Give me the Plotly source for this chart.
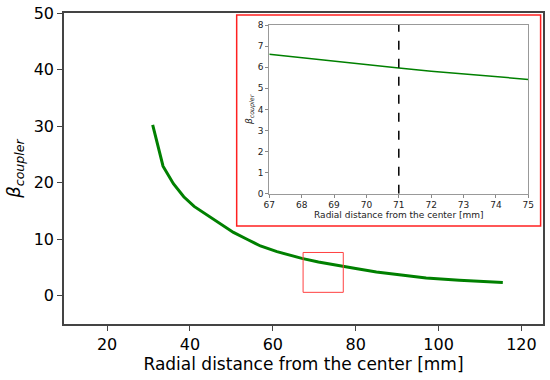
import plotly.graph_objects as go

# Main curve data
x_main = [31, 33.5, 36, 38.5, 41, 44, 47, 50.5, 54, 57, 61, 65, 67, 71, 75, 80, 85, 90, 97, 105, 115.5]
y_main = [30.2, 22.9, 19.8, 17.5, 15.8, 14.3, 12.8, 11.2, 9.9, 8.8, 7.8, 7.0, 6.6, 5.95, 5.4, 4.8, 4.2, 3.75, 3.15, 2.75, 2.35]

# Inset (zoomed) data
x_inset = [67, 68, 69, 70, 71, 72, 73, 74, 75]
y_inset = [6.61, 6.44, 6.28, 6.12, 5.96, 5.81, 5.67, 5.54, 5.42]

marker_x = 71
zoom_box = dict(x0=67.3, x1=77.0, y0=0.6, y1=7.65)

main_xticks = [20, 40, 60, 80, 100, 120]
main_yticks = [0, 10, 20, 30, 40, 50]
inset_xticks = [67, 68, 69, 70, 71, 72, 73, 74, 75]
inset_yticks = [0, 1, 2, 3, 4, 5, 6, 7, 8]

FONT = "DejaVu Sans"
fig = go.Figure()

fig.add_trace(go.Scatter(x=x_main, y=y_main, mode="lines",
                         line=dict(color="#008000", width=3), xaxis="x", yaxis="y",
                         showlegend=False))
fig.add_trace(go.Scatter(x=x_inset, y=y_inset, mode="lines",
                         line=dict(color="#008000", width=1.5), xaxis="x2", yaxis="y2",
                         showlegend=False))
fig.add_trace(go.Scatter(x=[marker_x, marker_x], y=[inset_yticks[0], inset_yticks[-1]], mode="lines",
                         line=dict(color="black", width=1.5, dash="dash"), xaxis="x2", yaxis="y2",
                         showlegend=False))

fig.add_shape(type="rect", xref="x", yref="y", line=dict(color="#ff4040", width=1),
              **zoom_box)
fig.add_shape(type="rect", xref="paper", yref="paper", x0=0.3605, x1=0.995, y0=0.315, y1=0.9936,
              line=dict(color="#ff2020", width=1.5), fillcolor="white", layer="below")

fig.update_layout(
    width=550, height=380,
    margin=dict(l=64, r=7, t=13, b=56),
    paper_bgcolor="white", plot_bgcolor="white",
    font=dict(family=FONT, color="black"),
    xaxis=dict(range=[9.6, 125.2], tickvals=main_xticks, ticks="outside", ticklen=5,
               tickcolor="#444", showline=True, linecolor="#444", linewidth=1.5, mirror=True,
               showgrid=False, zeroline=False, tickfont=dict(size=16), automargin=False,
               title=dict(text="Radial distance from the center [mm]", font=dict(size=17), standoff=4)),
    yaxis=dict(range=[-5, 50], tickvals=main_yticks, ticks="outside", ticklen=5,
               tickcolor="#444", showline=True, linecolor="#444", linewidth=1.5, mirror=True,
               showgrid=False, zeroline=False, tickfont=dict(size=16), automargin=False,
               title=dict(text="<i>β</i><sub><i>coupler</i></sub>", font=dict(size=18), standoff=8)),
    xaxis2=dict(domain=[0.4286, 0.9693], anchor="y2", range=[67, 75], tickvals=inset_xticks,
                ticks="outside", ticklen=3, tickcolor="#888", showline=True, linecolor="#999",
                linewidth=1, mirror=True, showgrid=False, zeroline=False, automargin=False,
                tickfont=dict(size=9, color="#222"),
                title=dict(text="Radial distance from the center [mm]", font=dict(size=9, color="#222"), standoff=2)),
    yaxis2=dict(domain=[0.419, 0.9614], anchor="x2", range=[0, 8], tickvals=inset_yticks,
                ticks="outside", ticklen=3, tickcolor="#888", showline=True, linecolor="#999",
                linewidth=1, mirror=True, showgrid=False, zeroline=False, automargin=False,
                tickfont=dict(size=9, color="#222"),
                title=dict(text="<i>β</i><sub><i>coupler</i></sub>", font=dict(size=9, color="#222"), standoff=3)),
)

fig.write_html("out.html", config={"displayModeBar": False},
               post_script="document.body.style.margin='0';document.body.style.overflow='hidden';")
